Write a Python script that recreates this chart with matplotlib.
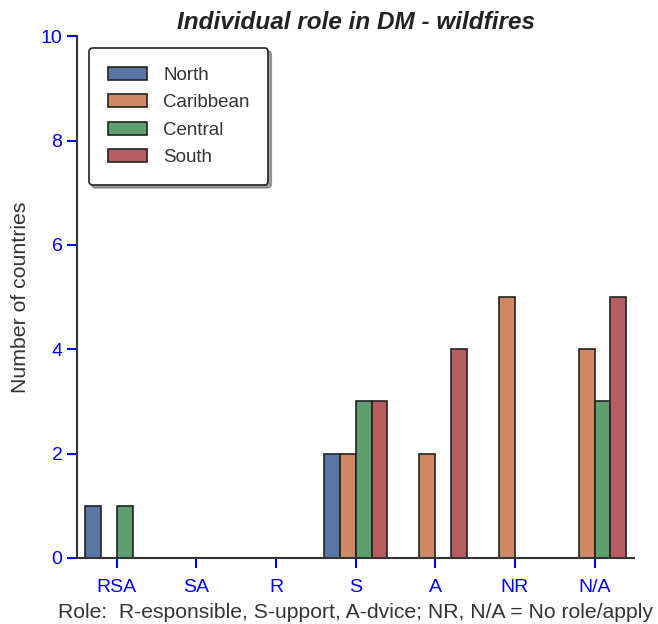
import numpy as np
import matplotlib
matplotlib.use("Agg")
import matplotlib.pyplot as plt

roles = ["RSA", "SA", "R", "S", "A", "NR", "N/A"]
regions = ["North", "Caribbean", "Central", "South"]
north = [1, 0, 0, 2, 0, 0, 0]
caribbean = [0, 0, 0, 2, 2, 5, 4]
central = [1, 0, 0, 3, 0, 0, 3]
south = [0, 0, 0, 3, 4, 0, 5]
colors = ["#5975a4", "#cc8963", "#5f9e6e", "#b55d60"]

plt.rcParams['font.family'] = ['Liberation Sans', 'DejaVu Sans']

fig = plt.figure(figsize=(6.58, 6.24), dpi=100)
ax = fig.add_axes([0.117, 0.106, 0.847, 0.836])

x = np.arange(len(roles))
width = 0.2
series = [north, caribbean, central, south]
for i, (name, vals) in enumerate(zip(regions, series)):
    offset = (i - 1.5) * width
    ax.bar(x + offset, vals, width, label=name, color=colors[i],
           edgecolor="#222222", linewidth=1.2)

ax.set_xlim(-0.5, 6.5)
ax.set_ylim(0, 10)
ax.set_xticks(x)
ax.set_xticklabels(roles)
ax.set_yticks(range(0, 11, 2))

for side in ["top", "right"]:
    ax.spines[side].set_visible(False)
for side in ["left", "bottom"]:
    ax.spines[side].set_color("#333333")
    ax.spines[side].set_linewidth(1.5)

ax.tick_params(axis="both", colors="blue", labelsize=14, length=7, width=1.5)
ax.tick_params(axis="x", pad=8)

ax.set_title("Individual role in DM - wildfires", fontsize=17.5,
             fontweight="bold", fontstyle="italic", color="#222222", pad=5)
ax.set_ylabel("Number of countries", fontsize=15.3, color="#333333", labelpad=8)
ax.set_xlabel("Role:  R-esponsible, S-upport, A-dvice; NR, N/A = No role/apply",
              fontsize=15.2, color="#333333", labelpad=5)

leg = ax.legend(loc="upper left", bbox_to_anchor=(0.005, 0.995), fontsize=13.5,
                frameon=True, fancybox=True, shadow=True, framealpha=1,
                edgecolor="#222222", borderpad=1.0, handlelength=2.1,
                handletextpad=0.85, labelspacing=0.55, borderaxespad=0.5)
leg.get_frame().set_linewidth(1.2)
for t in leg.get_texts():
    t.set_color("#333333")

fig.savefig("out.png", dpi=100)
